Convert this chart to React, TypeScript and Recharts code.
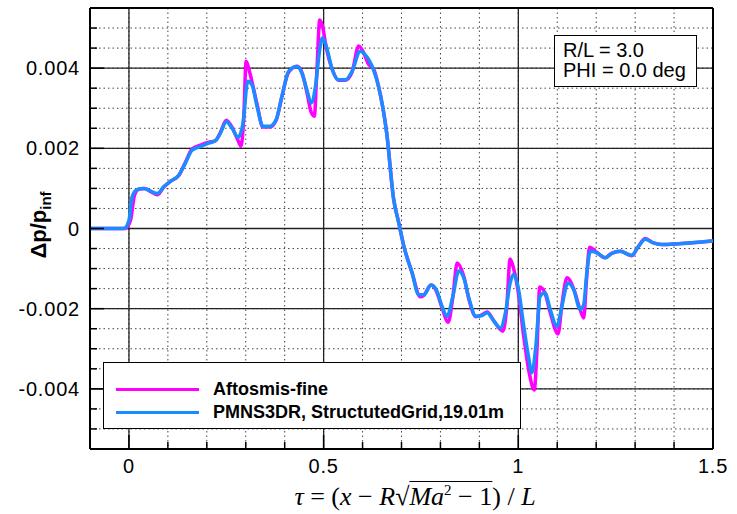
import { LineChart, Line, XAxis, YAxis, CartesianGrid, Legend } from 'recharts';

// Aftosmis-fine (magenta)
const aftosmisX = [
  -0.1, -0.01, 0.004, 0.014, 0.025, 0.04, 0.056, 0.073, 0.09, 0.107,
  0.128, 0.145, 0.162, 0.184, 0.205, 0.222, 0.235, 0.25, 0.265, 0.28,
  0.288, 0.295, 0.301, 0.31, 0.329, 0.344, 0.362, 0.378, 0.393, 0.41,
  0.432, 0.444, 0.457, 0.468, 0.476, 0.483, 0.49, 0.497, 0.507, 0.521,
  0.538, 0.556, 0.573, 0.59, 0.602, 0.615, 0.628, 0.641, 0.662, 0.68,
  0.693, 0.706, 0.727, 0.748, 0.757, 0.776, 0.789, 0.804, 0.82, 0.832,
  0.843, 0.86, 0.874, 0.891, 0.907, 0.92, 0.937, 0.96, 0.97, 0.979,
  0.988, 1.0, 1.014, 1.028, 1.041, 1.048, 1.055, 1.068, 1.082, 1.102,
  1.112, 1.125, 1.142, 1.158, 1.168, 1.175, 1.183, 1.202, 1.223, 1.24,
  1.262, 1.291, 1.309, 1.326, 1.347, 1.368, 1.411, 1.5,
];
const aftosmisY = [
  0, 0, 0.0002, 0.00082, 0.00098, 0.001, 0.00092, 0.00084, 0.00104, 0.00118,
  0.00132, 0.00165, 0.00198, 0.00208, 0.00215, 0.00219, 0.0024, 0.0027, 0.00252, 0.0022,
  0.00205, 0.0028, 0.00417, 0.0039, 0.0031, 0.00253, 0.00253, 0.0027, 0.0033, 0.0039,
  0.00405, 0.0039, 0.0034, 0.0029, 0.0028, 0.004, 0.0052, 0.00505, 0.0045, 0.004,
  0.0037, 0.0037, 0.0039, 0.00455, 0.0044, 0.0041, 0.00398, 0.00355, 0.00238, 0.00072,
  0.00014, -0.00044, -0.0011, -0.0017, -0.00167, -0.00141, -0.00155, -0.00197, -0.00234, -0.0017,
  -0.00086, -0.0012, -0.0018, -0.0022, -0.00215, -0.00208, -0.0023, -0.00256, -0.002, -0.00076,
  -0.001, -0.0016, -0.0027, -0.0036, -0.00403, -0.003, -0.00146, -0.0016, -0.0021, -0.00263,
  -0.0019, -0.00123, -0.0015, -0.002, -0.00223, -0.0013, -0.00047, -0.0006, -0.00073, -0.00062,
  -0.00057, -0.00068, -0.00044, -0.00025, -0.00036, -0.0004, -0.00038, -0.00031,
];

// PMNS3DR, StructutedGrid (blue)
const pmnsX = [
  -0.1, -0.013, 0, 0.0085, 0.021, 0.038, 0.056, 0.073, 0.09, 0.107,
  0.128, 0.145, 0.162, 0.184, 0.205, 0.222, 0.235, 0.25, 0.265, 0.28,
  0.293, 0.305, 0.316, 0.329, 0.344, 0.362, 0.378, 0.393, 0.41, 0.432,
  0.444, 0.457, 0.468, 0.479, 0.49, 0.497, 0.507, 0.521, 0.538, 0.556,
  0.573, 0.594, 0.607, 0.628, 0.641, 0.662, 0.68, 0.693, 0.706, 0.727,
  0.744, 0.757, 0.776, 0.789, 0.804, 0.817, 0.832, 0.847, 0.86, 0.874,
  0.891, 0.907, 0.92, 0.937, 0.954, 0.967, 0.979, 0.988, 0.999, 1.014,
  1.026, 1.035, 1.045, 1.056, 1.068, 1.082, 1.099, 1.112, 1.127, 1.142,
  1.159, 1.168, 1.176, 1.185, 1.202, 1.223, 1.24, 1.262, 1.291, 1.309,
  1.326, 1.347, 1.368, 1.411, 1.488, 1.5,
];
const pmnsY = [
  0, 0, 0.0002, 0.0008, 0.00097, 0.001, 0.00093, 0.00087, 0.00105, 0.00118,
  0.00133, 0.00163, 0.00195, 0.00205, 0.00213, 0.00219, 0.00238, 0.00266, 0.0025, 0.00227,
  0.00263, 0.00367, 0.00358, 0.00305, 0.00255, 0.00255, 0.00271, 0.0033, 0.00392, 0.00404,
  0.00388, 0.00346, 0.00313, 0.00354, 0.00446, 0.00475, 0.00454, 0.004, 0.00371, 0.00371,
  0.00392, 0.00442, 0.00433, 0.00396, 0.00354, 0.00238, 0.00072, 0.00014, -0.00044, -0.0011,
  -0.00165, -0.00165, -0.00141, -0.00152, -0.00194, -0.00219, -0.00169, -0.00106, -0.00123, -0.00177,
  -0.00219, -0.00217, -0.0021, -0.00231, -0.00248, -0.0021, -0.00136, -0.00115, -0.00144, -0.00244,
  -0.00319, -0.0036, -0.00294, -0.00169, -0.0016, -0.00202, -0.00244, -0.00194, -0.00136, -0.00152,
  -0.00202, -0.0019, -0.0011, -0.00057, -0.00061, -0.00073, -0.00062, -0.00057, -0.00067, -0.00044,
  -0.00027, -0.00036, -0.0004, -0.00038, -0.00032, -0.00031,
];

const xTicks = [0, 0.1, 0.2, 0.3, 0.4, 0.5, 0.6, 0.7, 0.8, 0.9, 1, 1.1, 1.2, 1.3, 1.4, 1.5];
const xMajor = [0, 0.5, 1, 1.5];
const yTicks = [
  -0.005, -0.0045, -0.004, -0.0035, -0.003, -0.0025, -0.002, -0.0015, -0.001, -0.0005,
  0, 0.0005, 0.001, 0.0015, 0.002, 0.0025, 0.003, 0.0035, 0.004, 0.0045, 0.005,
];
const yMajor = [-0.004, -0.002, 0, 0.002, 0.004];

const seriesNames = ['Aftosmis-fine', 'PMNS3DR, StructutedGrid,19.01m'];
const colors = ['#ff00ff', '#1a8cff']; // magenta, blue
const noteLines = ['R/L = 3.0', 'PHI = 0.0 deg'];

const font = '"Liberation Sans", Arial, sans-serif';

const toPoints = (xs: number[], ys: number[]) => xs.map((x, i) => ({ x, y: ys[i] }));
const aftosmisData = toPoints(aftosmisX, aftosmisY);
const pmnsData = toPoints(pmnsX, pmnsY);

const isIn = (list: number[], v: number) => list.some((m) => Math.abs(m - v) < 1e-9);

const YTick = (props: any) => {
  const { x, y, payload } = props;
  const major = isIn(yMajor, payload.value);
  return (
    <g>
      <line x1={x} x2={x + (major ? 14 : 7)} y1={y} y2={y} stroke="#000" strokeWidth={1.5} />
      {major && (
        <text x={x - 10} y={y} textAnchor="end" dominantBaseline="central" fontSize={20} letterSpacing={0.8} fill="#000" fontFamily={font}>
          {payload.value === 0 ? '0' : payload.value.toFixed(3)}
        </text>
      )}
    </g>
  );
};

const XTick = (props: any) => {
  const { x, y, payload } = props;
  const major = isIn(xMajor, payload.value);
  return (
    <g>
      <line x1={x} x2={x} y1={y} y2={y - (major ? 14 : 7)} stroke="#000" strokeWidth={1.5} />
      {major && (
        <text x={x} y={y + 24} textAnchor="middle" fontSize={20} letterSpacing={0.8} fill="#000" fontFamily={font}>
          {String(payload.value)}
        </text>
      )}
    </g>
  );
};

const LegendBox = () => (
  <div style={{ border: '1px solid #000', background: '#fff', width: 418, height: 67, paddingTop: 3, boxSizing: 'border-box' as const, fontFamily: font }}>
    {seriesNames.map((name, i) => (
      <div key={name} style={{ display: 'flex', alignItems: 'center', height: 23, marginTop: i === 0 ? 12 : 0 }}>
        <span style={{ display: 'inline-block', width: 83, height: 3, background: colors[i], marginLeft: 12, marginRight: 14 }} />
        <span style={{ fontWeight: 'bold', fontSize: 18, color: '#000' }}>{name}</span>
      </div>
    ))}
  </div>
);

export default function App() {
  return (
    <div style={{ position: 'absolute', left: 0, top: 0, width: 737, height: 514, background: '#fff', fontFamily: font }}>
      <LineChart width={737} height={514} margin={{ top: 8, right: 24, bottom: 0, left: 0 }}>
        <CartesianGrid stroke="#444" strokeDasharray="1.5 3" />
        <CartesianGrid stroke="#222" strokeWidth={1.3} verticalValues={xMajor} horizontalValues={yMajor} />
        <CartesianGrid stroke="#000" strokeWidth={2} verticalValues={[1.5]} horizontalValues={[0.0055]} />
        <XAxis
          dataKey="x"
          type="number"
          domain={[-0.1, 1.5]}
          allowDataOverflow
          ticks={xTicks}
          interval={0}
          height={65}
          tickSize={0}
          tickMargin={0}
          tickLine={false}
          axisLine={{ stroke: '#000', strokeWidth: 2 }}
          tick={XTick}
        />
        <YAxis
          dataKey="y"
          type="number"
          domain={[-0.0055, 0.0055]}
          allowDataOverflow
          ticks={yTicks}
          interval={0}
          width={90}
          tickSize={0}
          tickMargin={0}
          tickLine={false}
          axisLine={{ stroke: '#000', strokeWidth: 2 }}
          tick={YTick}
        />
        <Legend
          layout="horizontal"
          verticalAlign="middle"
          align="center"
          content={LegendBox}
          wrapperStyle={{ position: 'absolute', left: 103, top: 362, width: 420, height: 69 }}
        />
        <Line data={aftosmisData} dataKey="y" name={seriesNames[0]} type="monotone" stroke={colors[0]} strokeWidth={3.5} dot={false} isAnimationActive={false} />
        <Line data={pmnsData} dataKey="y" name={seriesNames[1]} type="monotone" stroke={colors[1]} strokeWidth={3.5} dot={false} isAnimationActive={false} />
      </LineChart>

      <div style={{ position: 'absolute', left: 554, top: 35, width: 143, height: 52, boxSizing: 'border-box', border: '1px solid #000', background: '#fff', padding: '4px 0 0 8px', fontSize: 20, lineHeight: '20px', color: '#000' }}>
        {noteLines.map((t) => (
          <div key={t}>{t}</div>
        ))}
      </div>

      <div style={{ position: 'absolute', left: 40, top: 225, transform: 'translate(-50%, -50%) rotate(-90deg)', whiteSpace: 'nowrap', fontWeight: 'bold', fontSize: 22, color: '#000' }}>
        Δp/p<sub style={{ fontSize: 15 }}>inf</sub>
      </div>

      <div style={{ position: 'absolute', left: 415, top: 485, transform: 'translateX(-50%)', whiteSpace: 'nowrap', fontFamily: '"Liberation Serif", "Times New Roman", serif', fontSize: 26, lineHeight: '24px', color: '#000' }}>
        <i>τ</i> = (<i>x</i> − <i>R</i>√<span style={{ borderTop: '1.5px solid #000' }}><i>Ma</i><sup style={{ fontSize: 15, lineHeight: 0 }}>2</sup> − 1</span>) / <i>L</i>
      </div>
    </div>
  );
}
